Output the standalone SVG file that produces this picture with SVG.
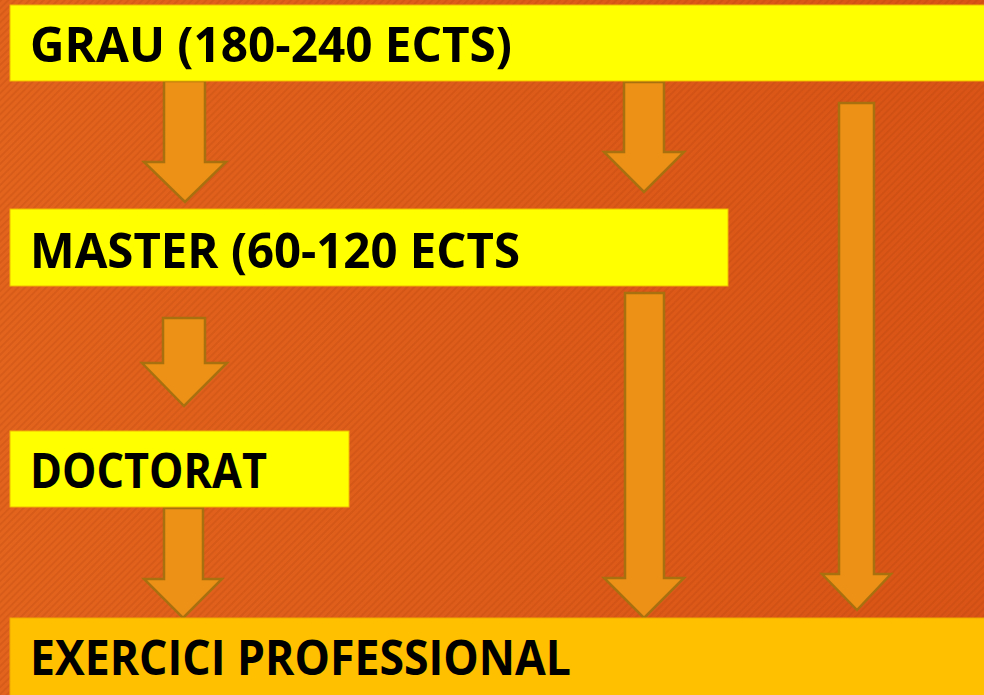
<svg xmlns="http://www.w3.org/2000/svg" width="984" height="695" viewBox="0 0 984 695">
  <defs>
    <linearGradient id="bg" x1="0" y1="0" x2="1" y2="0">
      <stop offset="0" stop-color="#E3641D"/>
      <stop offset="1" stop-color="#D95416"/>
    </linearGradient>
    <pattern id="stripes" width="5" height="5" patternUnits="userSpaceOnUse" patternTransform="rotate(45)">
      <rect x="0" y="0" width="2" height="5" fill="#A83A08" opacity="0.2"/>
    </pattern>
    <style>
      .box { fill: #FFFF00; stroke: #F2B800; stroke-width: 1; }
      .boxpro { fill: #FFC000; stroke: #F0A800; stroke-width: 1; }
      .label { font-family: "Open Sans", "DejaVu Sans", sans-serif; font-weight: bold; font-size: 49px; fill: #000000; }
      .arrow { fill: #EC9016; stroke: #A9700F; stroke-width: 2.5; stroke-linejoin: miter; }
    </style>
  </defs>

  <rect x="0" y="0" width="984" height="695" fill="url(#bg)"/>
  <rect x="0" y="0" width="984" height="695" fill="url(#stripes)"/>

  <g id="connectors">
    <polygon class="arrow" points="164,81 205,81 205,162 226,162 185,202 144,162 164,162"/>
    <polygon class="arrow" points="163,318 205,318 205,363 227,363 184,406 142,363 163,363"/>
    <polygon class="arrow" points="164,508 203,508 203,579 222,579 183,618 144,579 164,579"/>
    <polygon class="arrow" points="624,82 664,82 664,152 684,152 644,192 604,152 624,152"/>
    <polygon class="arrow" points="625,293 664,293 664,578 684,578 644,618 604,578 625,578"/>
    <polygon class="arrow" points="839,103 874,103 874,574 891,574 857,610 822,574 839,574"/>
  </g>

  <g id="grau">
    <rect class="box" x="10" y="5" width="980" height="76"/>
    <text class="label" x="30" y="62" textLength="482" lengthAdjust="spacingAndGlyphs">GRAU (180-240 ECTS)</text>
  </g>

  <g id="master">
    <rect class="box" x="10" y="209" width="718" height="77"/>
    <text class="label" x="30" y="268" textLength="490" lengthAdjust="spacingAndGlyphs">MASTER (60-120 ECTS</text>
  </g>

  <g id="doctorat">
    <rect class="box" x="10" y="431" width="339" height="76"/>
    <text class="label" x="30" y="488" textLength="237" lengthAdjust="spacingAndGlyphs">DOCTORAT</text>
  </g>

  <g id="exercici">
    <rect class="boxpro" x="10" y="618" width="980" height="80"/>
    <text class="label" x="30" y="675" textLength="541" lengthAdjust="spacingAndGlyphs">EXERCICI PROFESSIONAL</text>
  </g>
</svg>
